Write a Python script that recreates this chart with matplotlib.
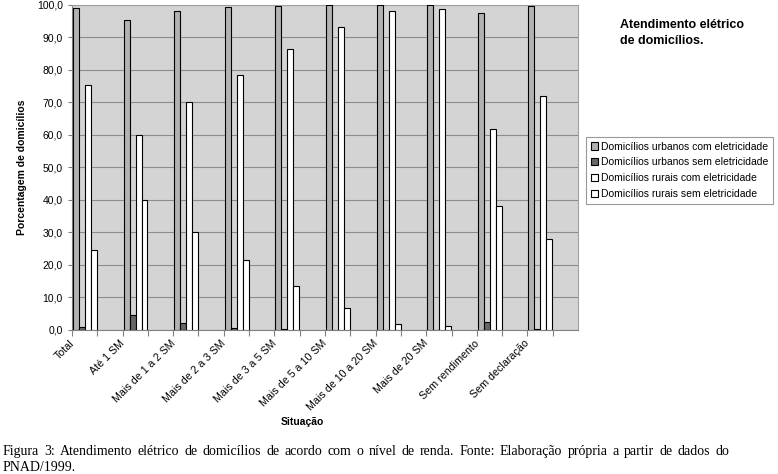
import matplotlib
matplotlib.use("Agg")
import matplotlib.pyplot as plt
import numpy as np

plt.rcParams['font.family'] = ['Liberation Sans', 'DejaVu Sans']

categorias = ['Total', 'Até 1 SM', 'Mais de 1 a 2 SM', 'Mais de 2 a 3 SM', 'Mais de 3 a 5 SM',
              'Mais de 5 a 10 SM', 'Mais de 10 a 20 SM', 'Mais de 20 SM', 'Sem rendimento',
              'Sem declaração']
urb_com = [99.2, 95.5, 98.0, 99.3, 99.8, 99.9, 100.0, 100.0, 97.6, 99.8]
urb_sem = [0.8, 4.5, 2.0, 0.7, 0.2, 0.1, 0.0, 0.0, 2.4, 0.2]
rur_com = [75.3, 60.1, 70.0, 78.5, 86.4, 93.3, 98.3, 98.8, 61.7, 72.1]
rur_sem = [24.5, 39.9, 30.0, 21.4, 13.6, 6.7, 1.8, 1.3, 38.3, 28.0]

series = [
    ('Domicílios urbanos com eletricidade', urb_com, '#b2b2b2'),
    ('Domicílios urbanos sem eletricidade', urb_sem, '#666666'),
    ('Domicílios rurais com eletricidade', rur_com, '#ffffff'),
    ('Domicílios rurais sem eletricidade', rur_sem, '#ffffff'),
]

legenda1 = ('Figura 3: Atendimento elétrico de domicílios de acordo com o nível de renda. '
            'Fonte: Elaboração própria a partir de dados do')
legenda2 = 'PNAD/1999.'

fig = plt.figure(figsize=(7.78, 4.74), dpi=100)
ax = fig.add_axes([0.0925, 0.3038, 0.6505, 0.6857])
ax.set_facecolor('#d4d4d4')

x = np.arange(len(categorias))
w = 0.118
for k, (nome, vals, cor) in enumerate(series):
    ax.bar(x + 0.02 + k * w, vals, width=w, align='edge', color=cor,
           edgecolor='black', linewidth=0.8, label=nome, zorder=3)

ax.set_xlim(0, len(categorias))
ax.set_ylim(0, 100)
ax.set_yticks(np.arange(0, 101, 10))
ax.set_yticklabels([f'{v:.1f}'.replace('.', ',') for v in np.arange(0, 101, 10)], fontsize=7.5)
ax.yaxis.grid(True, color='#8c8c8c', linewidth=0.8, zorder=0)
ax.set_xticks(np.arange(0, len(categorias), 0.5))
ax.set_xticklabels([])
ax.tick_params(axis='x', length=4, color='#808080')
ax.tick_params(axis='y', length=3, color='#808080')
for i, c in enumerate(categorias):
    ax.text(i + 0.08, -2.5, c, rotation=45, ha='right', va='top', fontsize=7.7)
for s in ax.spines.values():
    s.set_color('#a0a0a0')
ax.spines['left'].set_color('#808080')
ax.spines['bottom'].set_color('#808080')

fig.text(0.0283, 0.647, 'Porcentagem de domicílios', rotation=90, ha='center', va='center',
         fontsize=7.5, fontweight='bold')
fig.text(0.389, 0.109, 'Situação', ha='center', va='center', fontsize=7.5, fontweight='bold')
fig.text(0.797, 0.93, 'Atendimento elétrico\nde domicílios.', ha='left', va='center',
         fontsize=9, fontweight='bold', linespacing=1.4)

leg = ax.legend(loc='upper left', bbox_to_anchor=(0.753, 0.711), bbox_transform=fig.transFigure,
                fontsize=7.5, frameon=True, fancybox=False, edgecolor='#808080',
                handlelength=0.7, handleheight=0.7, handletextpad=0.3, borderpad=0.45,
                labelspacing=0.55, borderaxespad=0)
leg.get_frame().set_linewidth(0.8)

# legenda da figura, justificada entre x0 e x1 (pixels)
serif = ['Liberation Serif', 'DejaVu Serif']
renderer = fig.canvas.get_renderer()
x0, x1 = 3, 729
palavras = legenda1.split(' ')
textos = [fig.text(0, 0, p, fontsize=10, family=serif) for p in palavras]
larg = [t.get_window_extent(renderer).width for t in textos]
esp = (x1 - x0 - sum(larg)) / (len(palavras) - 1)
pos = x0
for t, lw in zip(textos, larg):
    t.set_position((pos / 778, 0.040))
    pos += lw + esp
fig.text(x0 / 778, 0.006, legenda2, fontsize=10, family=serif)

fig.savefig('out.png', dpi=100)
